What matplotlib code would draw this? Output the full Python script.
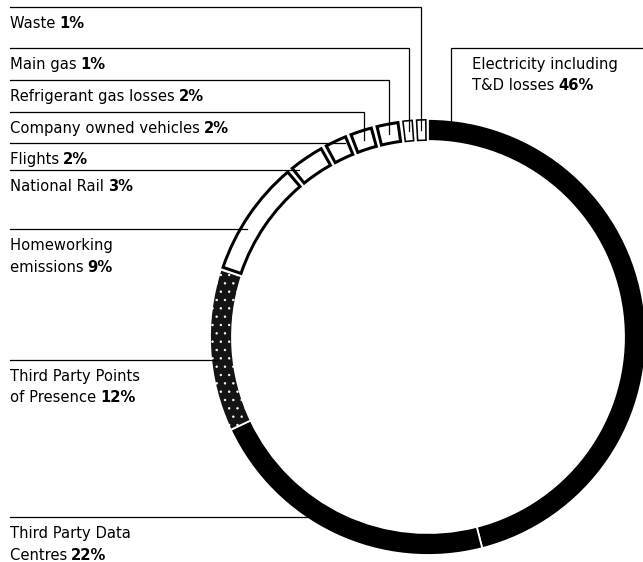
import numpy as np
import matplotlib.pyplot as plt
from matplotlib.patches import Wedge

plt.rcParams['font.family'] = ['DejaVu Sans']
plt.rcParams['hatch.color'] = 'white'
plt.rcParams['hatch.linewidth'] = 0.5

# emission shares, clockwise from 12 o'clock
labels = ['Electricity including\nT&D losses', 'Third Party Data\nCentres',
          'Third Party Points\nof Presence', 'Homeworking\nemissions',
          'National Rail', 'Flights', 'Company owned vehicles',
          'Refrigerant gas losses', 'Main gas', 'Waste']
shares = [46, 22, 12, 9, 3, 2, 2, 2, 1, 1]

# look of each segment
fills = ['black', 'black', '#141414', 'white', 'white', 'white', 'white', 'white', 'white', 'white']
outlined = [False, False, False, True, True, True, True, True, True, True]
hatches = [None, None, '..', None, None, None, None, None, None, None]

# label layout (pixel rows of the rule drawn above each label)
rule_y = [48, 517, 360, 229, 170, 143, 112, 80, 48, 7]
leader = ['right', 'h', 'h', 'h', 'h', 'h', 'v', 'v', 'v', 'v']
anchor_frac = [0.036, 0.5, 0.5, 0.5, 0.5, 0.5, 0.5, 0.5, 0.5, 0.5]

W, H = 643, 562
cx, cy = 428, 337
r_out, ring_w = 218, 22
r_mid = r_out - ring_w / 2

fig = plt.figure(figsize=(W / 100, H / 100), dpi=100)
ax = fig.add_axes([0, 0, 1, 1])
ax.set_xlim(0, W)
ax.set_ylim(H, 0)
ax.axis('off')

ends = np.cumsum(shares) / sum(shares) * 360
starts = ends - np.array(shares) / sum(shares) * 360


def ring_point(a, r):
    # a: degrees clockwise from the top
    t = np.radians(a)
    return cx + r * np.sin(t), cy - r * np.cos(t)


for i in range(len(shares)):
    a0, a1 = starts[i], ends[i]
    if outlined[i]:
        lw_px = 1.6 if shares[i] < 2 else 3.0
        pad = np.degrees((lw_px / 2 + 1.3) / r_mid)
        ax.add_patch(Wedge((cx, cy), r_out - lw_px / 2, a0 - 90 + pad, a1 - 90 - pad,
                           width=ring_w - lw_px, facecolor='white', edgecolor='black',
                           linewidth=lw_px * 0.72, joinstyle='miter'))
    else:
        ax.add_patch(Wedge((cx, cy), r_out, a0 - 90, a1 - 90, width=ring_w,
                           facecolor=fills[i], edgecolor='white', linewidth=1.3,
                           hatch=hatches[i]))

lw_line = 0.9
for i in range(len(shares)):
    a = starts[i] + anchor_frac[i] * (ends[i] - starts[i])
    y = rule_y[i]
    if leader[i] == 'v':
        px, py = ring_point(a, r_mid)
        ax.plot([10, px, px], [y, y, py], color='black', lw=lw_line, solid_joinstyle='miter')
    elif leader[i] == 'h':
        x_end = cx - np.sqrt(211 ** 2 - (cy - y) ** 2)
        ax.plot([10, x_end], [y, y], color='black', lw=lw_line)
    else:
        px, py = ring_point(a, r_out)
        ax.plot([W, px, px], [y, y, py + 4], color='black', lw=lw_line, solid_joinstyle='miter')

# label texts, last line ends with the bold share
fig.canvas.draw()
renderer = fig.canvas.get_renderer()
for i in range(len(shares)):
    tx = 472 if leader[i] == 'right' else 10
    lines = labels[i].split('\n')
    for k, line in enumerate(lines):
        by = rule_y[i] + 21 + 21.5 * k
        t = ax.text(tx, by, line + ' ', fontsize=10.6, va='baseline', ha='left', color='black')
        if k == len(lines) - 1:
            bb = t.get_window_extent(renderer)
            x_next = ax.transData.inverted().transform((bb.x1, bb.y0))[0]
            ax.text(x_next - 1, by, f'{shares[i]}%', fontsize=10.6, fontweight='bold',
                    va='baseline', ha='left', color='black')

fig.savefig('out.png', dpi=100, facecolor='white')
